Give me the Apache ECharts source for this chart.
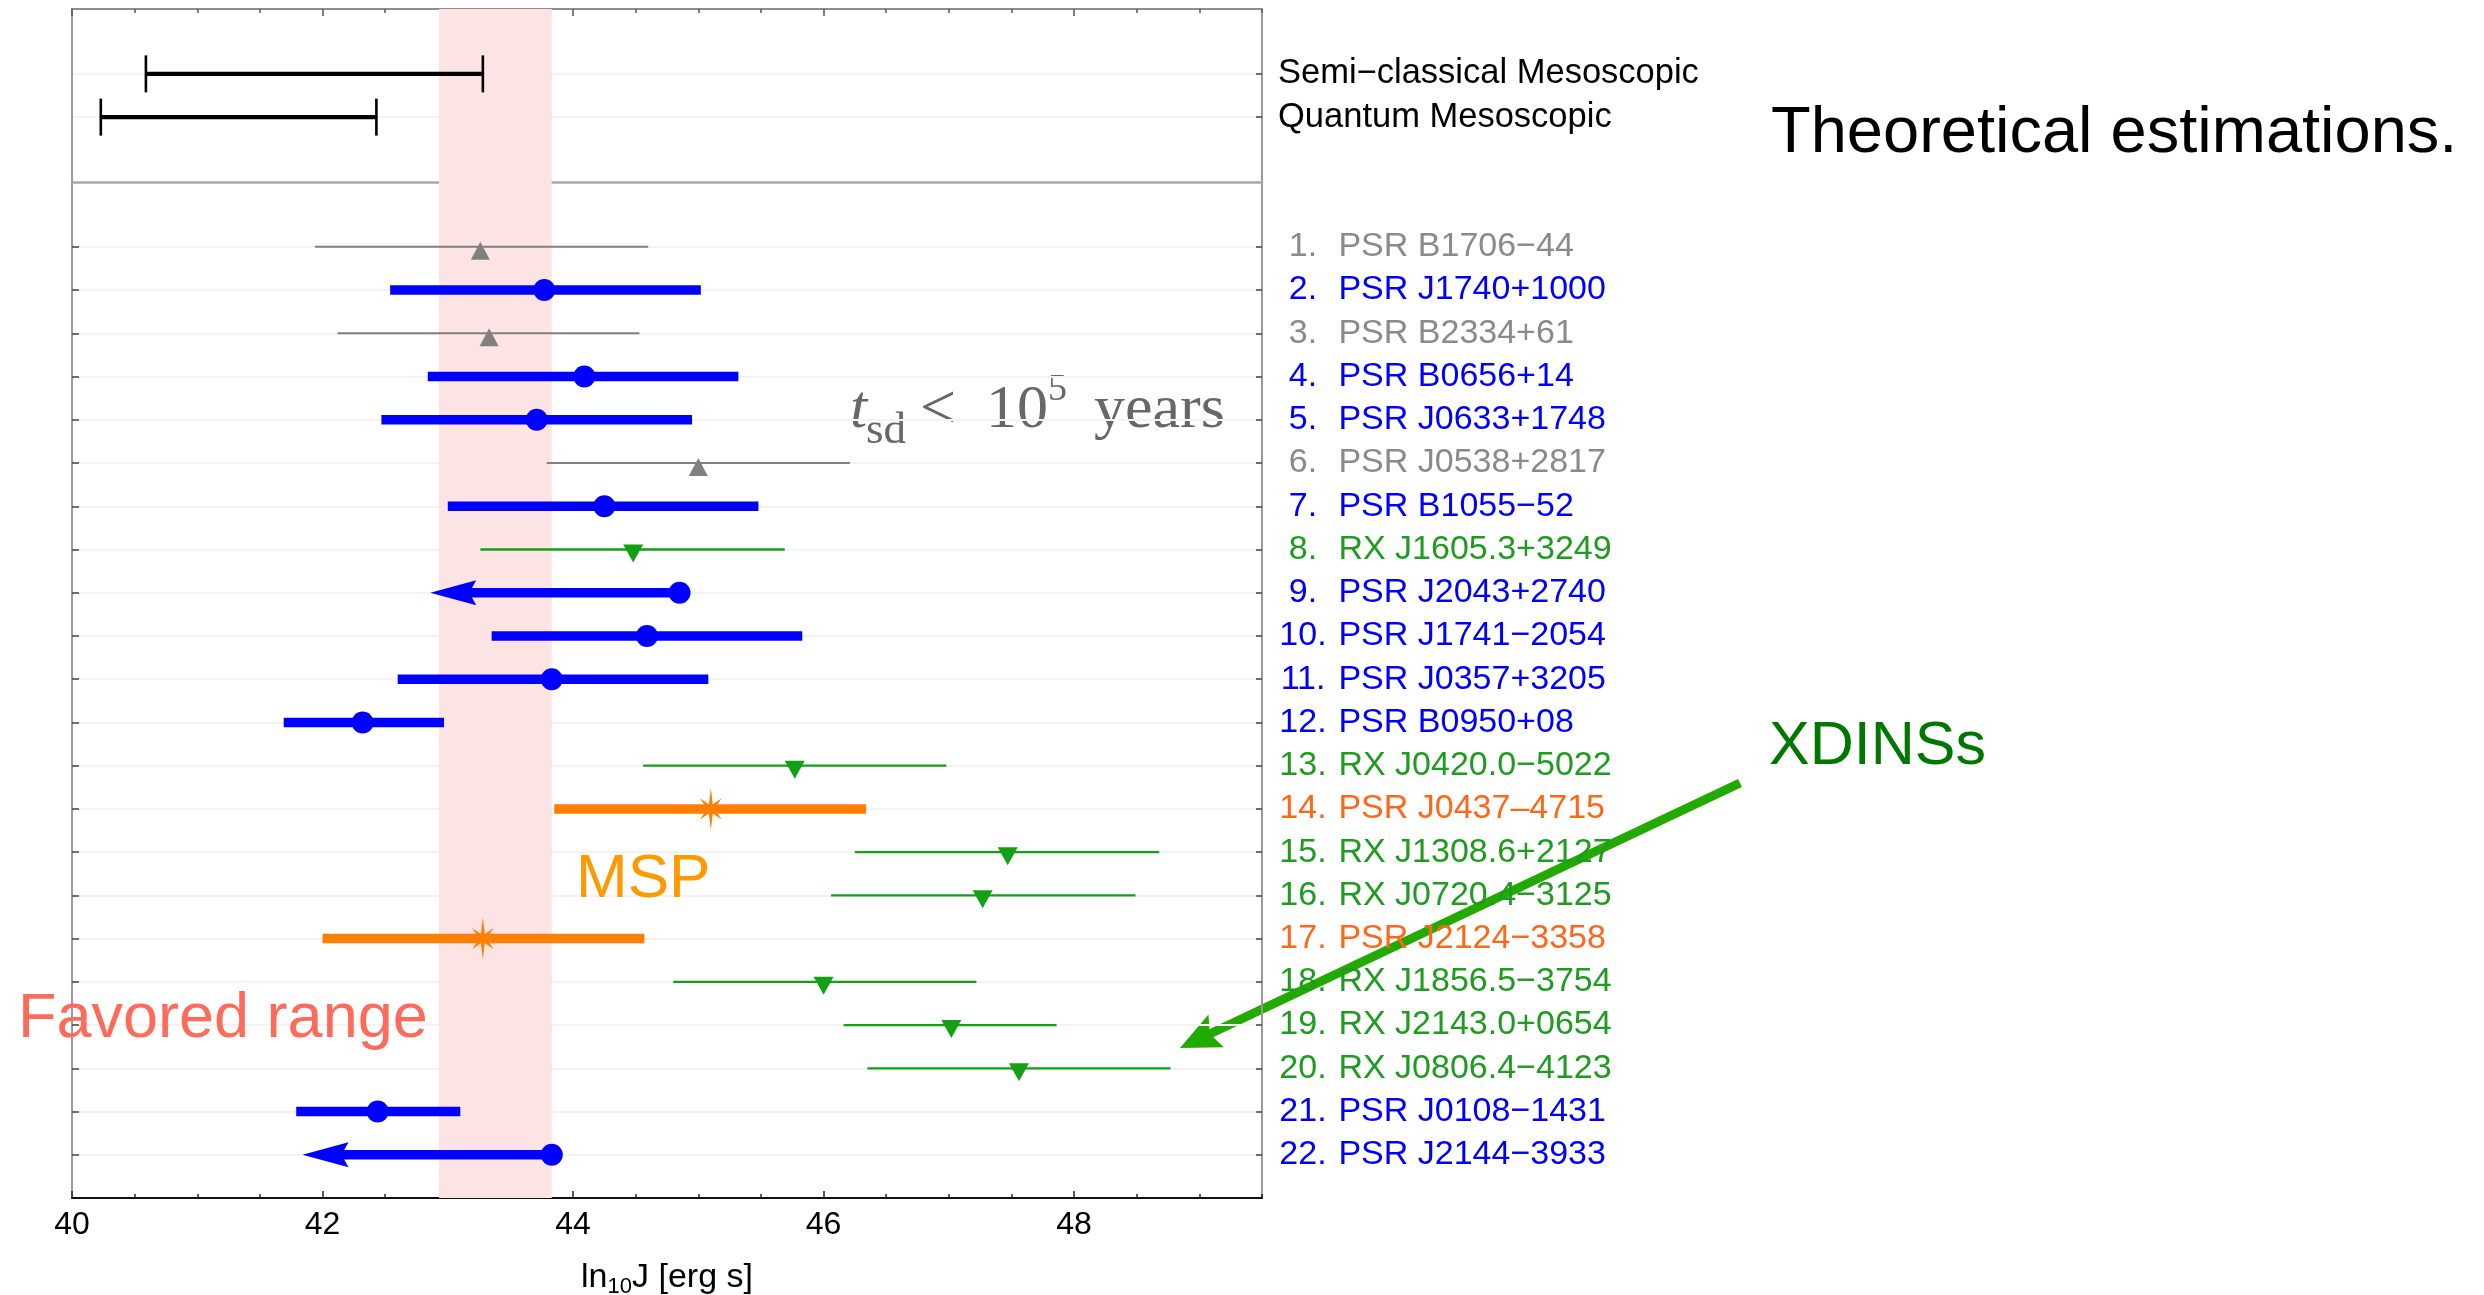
<!DOCTYPE html>
<html>
<head>
<meta charset="utf-8">
<title>Angular momentum of neutron stars</title>
<script src="https://cdn.jsdelivr.net/npm/echarts@6/dist/echarts.min.js"></script>
<style>
  html, body { margin: 0; padding: 0; background: #ffffff; }
  #chart { width: 2484px; height: 1295px; }
</style>
</head>
<body>
<div id="chart"></div>
<script>
// ---- Data: log10 J [erg s] per source ----
const sourceNames = [
  'PSR B1706−44', 'PSR J1740+1000', 'PSR B2334+61', 'PSR B0656+14', 'PSR J0633+1748',
  'PSR J0538+2817', 'PSR B1055−52', 'RX J1605.3+3249', 'PSR J2043+2740', 'PSR J1741−2054',
  'PSR J0357+3205', 'PSR B0950+08', 'RX J0420.0−5022', 'PSR J0437–4715', 'RX J1308.6+2127',
  'RX J0720.4−3125', 'PSR J2124−3358', 'RX J1856.5−3754', 'RX J2143.0+0654', 'RX J0806.4−4123',
  'PSR J0108−1431', 'PSR J2144−3933'
];
// young: spin-down age below 1e5 yr, pulsar: ordinary pulsar, xdins: isolated X-ray NS, msp: millisecond pulsar
const sourceClass = [
  'young', 'pulsar', 'young', 'pulsar', 'pulsar', 'young', 'pulsar', 'xdins', 'pulsar', 'pulsar',
  'pulsar', 'pulsar', 'xdins', 'msp', 'xdins', 'xdins', 'msp', 'xdins', 'xdins', 'xdins',
  'pulsar', 'pulsar'
];
const jCentral = [
  43.26, 43.77, 43.33, 44.09, 43.71, 45.00, 44.25, 44.48, 44.85, 44.59,
  43.83, 42.32, 45.77, 45.10, 47.47, 47.27, 43.28, 46.00, 47.02, 47.56,
  42.44, 43.83
];
const jLower = [
  41.94, 42.54, 42.12, 42.84, 42.47, 43.79, 43.00, 43.26, 42.86, 43.35,
  42.60, 41.69, 44.56, 43.85, 46.25, 46.06, 42.00, 44.80, 46.16, 46.35,
  41.79, 41.84
];
// null: only an upper limit, drawn as an arrow down to jLower
const jUpper = [
  44.60, 45.02, 44.53, 45.32, 44.95, 46.21, 45.48, 45.69, null, 45.83,
  45.08, 42.97, 46.98, 46.34, 48.68, 48.49, 44.57, 47.22, 47.86, 48.77,
  43.10, null
];

// Theoretical intervals
const theoryNames = ['Semi−classical Mesoscopic', 'Quantum Mesoscopic'];
const theoryLower = [40.59, 40.23];
const theoryUpper = [43.28, 42.43];

const favoredRange = [42.93, 43.83];
const xTicks = [40, 42, 44, 46, 48];

// ---- Styling ----
const SANS = '"Liberation Sans", Arial, Helvetica, sans-serif';
const SERIF = '"Liberation Serif", "Times New Roman", serif';

function starSymbol() {
  // eight-spoke star, long vertical spokes
  const outer = [50, 36, 42, 36, 50, 36, 42, 36];
  const pts = [];
  for (let k = 0; k < 16; k++) {
    const ang = k * Math.PI / 8;
    const r = k % 2 ? 12 : outer[k / 2];
    pts.push((50 + r * Math.sin(ang)).toFixed(2) + ',' + (50 - r * Math.cos(ang)).toFixed(2));
  }
  return 'path://M' + pts.join('L') + 'Z';
}

const classStyle = {
  young:  { line: '#808080', width: 2,   label: '#8a8a8a', symbol: 'triangle', size: [19, 18], offset: [0, 4] },
  pulsar: { line: '#0000ff', width: 9.5, label: '#0000ff', symbol: 'circle', size: 22, offset: [0, 0] },
  xdins:  { line: '#14a014', width: 2.3, label: '#1f9b1f', symbol: 'path://M0,0L10,0L5,10Z', size: [20, 18], offset: [0, 4] },
  msp:    { line: '#ff8000', width: 9.5, label: '#ff6618', symbol: starSymbol(), size: [36, 42], offset: [0, 0] }
};

const rowValues = sourceNames.map((_, i) => i + 1);
const theoryRows = theoryNames.map((_, i) => i + 1.5);

const labelRich = {};
Object.keys(classStyle).forEach(k => {
  labelRich['n_' + k] = { width: 52, align: 'center', color: classStyle[k].label, fontSize: 34, fontFamily: SANS };
  labelRich['s_' + k] = { color: classStyle[k].label, fontSize: 34, fontFamily: SANS };
});

const frameGray = '#9a9a9a';
const tickDark = '#444444';
const gridFaint = '#f3f3f3';

function arrowParts(from, to, color, width, headLen, headHalf, notch) {
  const dx = to[0] - from[0], dy = to[1] - from[1];
  const L = Math.hypot(dx, dy);
  const ux = dx / L, uy = dy / L, nx = -uy, ny = ux;
  const back = [to[0] - ux * headLen, to[1] - uy * headLen];
  const inner = [to[0] - ux * (headLen - notch), to[1] - uy * (headLen - notch)];
  return [
    { type: 'line', shape: { x1: from[0], y1: from[1], x2: inner[0] + ux * 2, y2: inner[1] + uy * 2 },
      style: { stroke: color, lineWidth: width, lineCap: 'butt' } },
    { type: 'polygon', shape: { points: [to, [back[0] + nx * headHalf, back[1] + ny * headHalf], inner,
      [back[0] - nx * headHalf, back[1] - ny * headHalf]] }, style: { fill: color } }
  ];
}

// ---- Series ----
const markerSeries = Object.keys(classStyle).map(k => ({
  type: 'scatter',
  xAxisIndex: 3,
  yAxisIndex: 2,
  z: 5,
  symbol: classStyle[k].symbol,
  symbolSize: classStyle[k].size,
  symbolOffset: classStyle[k].offset,
  symbolKeepAspect: false,
  itemStyle: { color: classStyle[k].line, opacity: 1 },
  silent: true,
  data: sourceNames.map((_, i) => i).filter(i => sourceClass[i] === k).map(i => [jCentral[i], i + 1])
}));

const option = {
  animation: false,
  backgroundColor: '#ffffff',
  textStyle: { fontFamily: SANS },
  grid: [
    { left: 72, top: 9, width: 1190, height: 173, outerBoundsMode: 'none' },
    { left: 72, top: 182, width: 1190, height: 1016, outerBoundsMode: 'none' }
  ],
  xAxis: [
    { gridIndex: 0, type: 'value', position: 'top', min: 40, max: 49.5, interval: 0.5,
      axisLine: { show: true, onZero: false, lineStyle: { color: '#8c8c8c', width: 2 } },
      axisTick: { show: true, inside: true, length: 4, lineStyle: { color: '#555555', width: 1.5 } },
      axisLabel: { show: false }, splitLine: { show: false } },
    { gridIndex: 0, type: 'value', position: 'top', min: 40, max: 49.5,
      axisLine: { show: false, onZero: false },
      axisTick: { show: true, inside: true, length: 7, customValues: xTicks, lineStyle: { color: '#555555', width: 1.5 } },
      axisLabel: { show: false }, splitLine: { show: false } },
    { gridIndex: 0, type: 'value', position: 'bottom', min: 40, max: 49.5,
      axisLine: { show: true, onZero: false, lineStyle: { color: '#a8a8a8', width: 2.5 } },
      axisTick: { show: false }, axisLabel: { show: false }, splitLine: { show: false } },
    { gridIndex: 1, type: 'value', position: 'bottom', min: 40, max: 49.5, interval: 0.5,
      axisLine: { show: true, onZero: false, lineStyle: { color: '#111111', width: 2 } },
      axisTick: { show: true, inside: true, length: 4, lineStyle: { color: '#222222', width: 1.5 } },
      axisLabel: { show: false }, splitLine: { show: false } },
    { gridIndex: 1, type: 'value', position: 'bottom', min: 40, max: 49.5,
      axisLine: { show: false, onZero: false },
      axisTick: { show: true, inside: true, length: 7, customValues: xTicks, lineStyle: { color: '#222222', width: 1.5 } },
      axisLabel: { show: true, customValues: xTicks, margin: 11, fontSize: 32, color: '#000000', fontFamily: SANS },
      splitLine: { show: false },
      name: '{a|ln}{b|10}{a|J [erg s]}',
      nameLocation: 'middle',
      nameGap: 60,
      nameTextStyle: {
        rich: {
          a: { fontSize: 34, lineHeight: 40, color: '#000000', fontFamily: SANS },
          b: { fontSize: 22, lineHeight: 22, color: '#000000', fontFamily: SANS, verticalAlign: 'bottom' }
        }
      } }
  ],
  yAxis: [
    { gridIndex: 0, type: 'value', position: 'left', min: 0, max: 4, inverse: true,
      axisLine: { show: true, onZero: false, lineStyle: { color: frameGray, width: 2 } },
      axisTick: { show: false }, axisLabel: { show: false }, splitLine: { show: false } },
    { gridIndex: 0, type: 'value', position: 'right', min: 0, max: 4, inverse: true,
      axisLine: { show: true, onZero: false, lineStyle: { color: frameGray, width: 2 } },
      axisTick: { show: true, inside: true, length: 6, customValues: theoryRows, lineStyle: { color: tickDark, width: 1.5 } },
      axisLabel: { show: true, customValues: theoryRows, margin: 16, fontSize: 34.5, color: '#000000', fontFamily: SANS,
        formatter: v => theoryNames[Math.round(v - 1.5)] || '' },
      splitLine: { show: true, lineStyle: { color: gridFaint, width: 2 } } },
    { gridIndex: 1, type: 'value', position: 'left', min: -0.5, max: 23, inverse: true,
      axisLine: { show: true, onZero: false, lineStyle: { color: frameGray, width: 2 } },
      axisTick: { show: true, inside: true, length: 7, customValues: rowValues, lineStyle: { color: tickDark, width: 1.5 } },
      axisLabel: { show: false }, splitLine: { show: false } },
    { gridIndex: 1, type: 'value', position: 'right', min: -0.5, max: 23, inverse: true,
      axisLine: { show: true, onZero: false, lineStyle: { color: frameGray, width: 2 } },
      axisTick: { show: true, inside: true, length: 6, customValues: rowValues, lineStyle: { color: tickDark, width: 1.5 } },
      axisLabel: { show: true, customValues: rowValues, margin: 15, rich: labelRich,
        formatter: v => {
          const i = Math.round(v) - 1;
          if (i < 0 || i >= sourceNames.length) return '';
          const k = sourceClass[i];
          return '{n_' + k + '|' + (i + 1) + '.}{s_' + k + '| ' + sourceNames[i] + '}';
        } },
      splitLine: { show: true, lineStyle: { color: gridFaint, width: 2 } } }
  ],
  series: [
    // favoured band, top panel
    { type: 'custom', xAxisIndex: 0, yAxisIndex: 0, z: 1, data: [], renderItem: () => null,
      markArea: { silent: true, itemStyle: { color: '#fde4e4', opacity: 1 },
        data: [[{ xAxis: favoredRange[0] }, { xAxis: favoredRange[1] }]] } },
    // favoured band, main panel
    { type: 'custom', xAxisIndex: 3, yAxisIndex: 2, z: 1, data: [], renderItem: () => null,
      markArea: { silent: true, itemStyle: { color: '#fde4e4', opacity: 1 },
        data: [[{ xAxis: favoredRange[0] }, { xAxis: favoredRange[1] }]] } },
    // theoretical intervals with end caps
    { type: 'custom', xAxisIndex: 0, yAxisIndex: 0, z: 3, silent: true,
      data: theoryNames.map((_, i) => [theoryLower[i], theoryUpper[i], theoryRows[i]]),
      encode: { x: [0, 1], y: 2 },
      renderItem: (params, api) => {
        const a = api.coord([api.value(0), api.value(2)]);
        const b = api.coord([api.value(1), api.value(2)]);
        const cap = 18.5;
        return { type: 'group', children: [
          { type: 'line', shape: { x1: a[0], y1: a[1], x2: b[0], y2: b[1] }, style: { stroke: '#000', lineWidth: 4.2 } },
          { type: 'line', shape: { x1: a[0], y1: a[1] - cap, x2: a[0], y2: a[1] + cap }, style: { stroke: '#000', lineWidth: 2.6 } },
          { type: 'line', shape: { x1: b[0], y1: b[1] - cap, x2: b[0], y2: b[1] + cap }, style: { stroke: '#000', lineWidth: 2.6 } }
        ] };
      } },
    // source ranges (arrow where only an upper limit exists)
    { type: 'custom', xAxisIndex: 3, yAxisIndex: 2, z: 3, silent: true,
      data: sourceNames.map((_, i) => [jLower[i], jUpper[i] == null ? jCentral[i] : jUpper[i], i + 1, i]),
      encode: { x: [0, 1], y: 2 },
      renderItem: (params, api) => {
        const i = api.value(3);
        const st = classStyle[sourceClass[i]];
        const a = api.coord([api.value(0), api.value(2)]);
        const b = api.coord([api.value(1), api.value(2)]);
        if (jUpper[i] == null) {
          return { type: 'group', children: arrowParts(b, a, st.line, st.width, 46, 12.5, 7) };
        }
        return { type: 'line', shape: { x1: a[0], y1: a[1], x2: b[0], y2: b[1] },
          style: { stroke: st.line, lineWidth: st.width, lineCap: 'butt' } };
      } }
  ].concat(markerSeries),
  graphic: [
    { type: 'text', x: 1771, y: 134, z: 50, silent: true,
      style: { text: 'Theoretical estimations.', fill: '#000000', fontSize: 65, fontFamily: SANS, align: 'left', verticalAlign: 'middle' } },
    { type: 'text', x: 1769, y: 747, z: 50, silent: true,
      style: { text: 'XDINSs', fill: '#007800', fontSize: 61, fontFamily: SANS, align: 'left', verticalAlign: 'middle' } },
    { type: 'text', x: 576, y: 880, z: 50, silent: true,
      style: { text: 'MSP', fill: '#ff9900', fontSize: 62, fontFamily: SANS, align: 'left', verticalAlign: 'middle' } },
    { type: 'text', x: 18, y: 1020, z: 50, silent: true,
      style: { text: 'Favored range', fill: '#ff6b5b', fontSize: 63, fontFamily: SANS, align: 'left', verticalAlign: 'middle' } },
    // t_sd < 10^5 years
    { type: 'group', z: 50, silent: true, children: [
      { type: 'text', x: 850, y: 411, style: { text: 't', fill: '#676767', fontSize: 62, fontStyle: 'italic', fontFamily: SERIF, verticalAlign: 'middle' } },
      { type: 'text', x: 866, y: 431, style: { text: 'sd', fill: '#676767', fontSize: 45, fontFamily: SERIF, verticalAlign: 'middle' } },
      { type: 'text', x: 920, y: 411, style: { text: '<', fill: '#676767', fontSize: 64, fontFamily: SERIF, verticalAlign: 'middle' } },
      { type: 'text', x: 986, y: 411, style: { text: '10', fill: '#676767', fontSize: 62, fontFamily: SERIF, verticalAlign: 'middle' } },
      { type: 'text', x: 1048, y: 390, style: { text: '5', fill: '#676767', fontSize: 38, fontFamily: SERIF, verticalAlign: 'middle' } },
      { type: 'text', x: 1094, y: 411, style: { text: 'years', fill: '#676767', fontSize: 62, fontFamily: SERIF, verticalAlign: 'middle' } }
    ] },
    // pointer towards the XDINS rows
    { type: 'group', z: 60, silent: true, children: arrowParts([1740, 783], [1180, 1048], '#22aa00', 9, 40, 18, 7) }
  ]
};

const chart = echarts.init(document.getElementById('chart'), null, { renderer: 'canvas' });
chart.setOption(option);
</script>
</body>
</html>
